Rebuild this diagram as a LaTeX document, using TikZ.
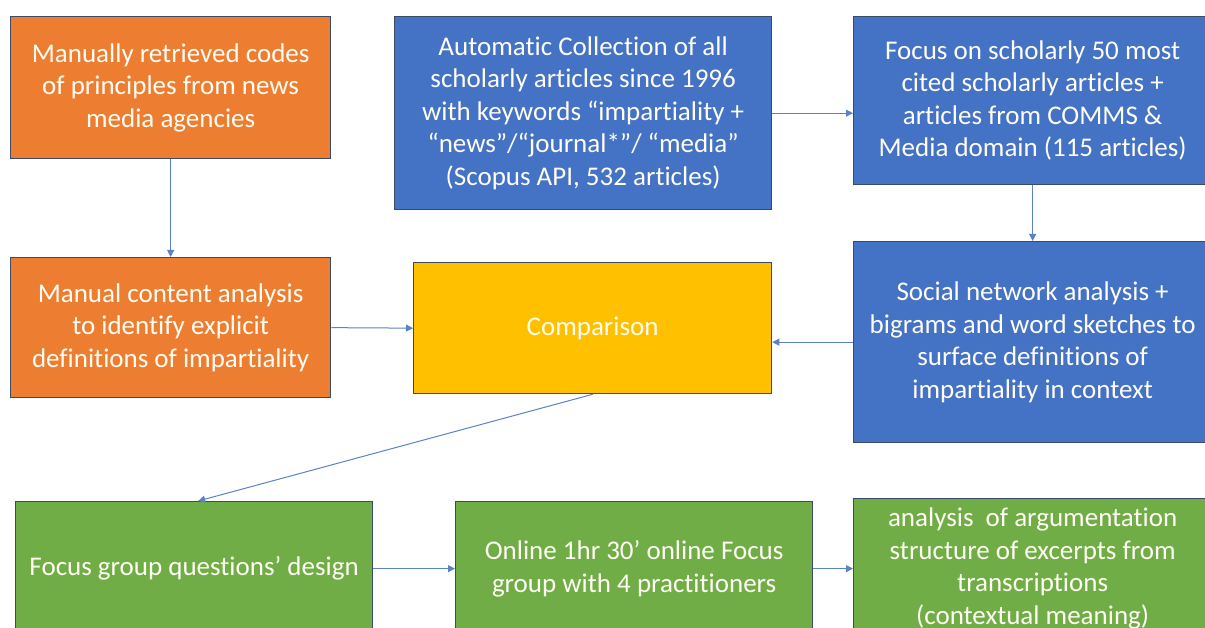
\documentclass[tikz,border=0pt]{standalone}
\usepackage{fontspec}
\setmainfont{Carlito}[RawFeature={-liga;-clig}]
\usetikzlibrary{arrows.meta}
\definecolor{cOrange}{HTML}{ED7D31}
\definecolor{cBlue}{HTML}{4472C4}
\definecolor{cYellow}{HTML}{FFC000}
\definecolor{cGreen}{HTML}{70AD47}
\definecolor{cBorder}{HTML}{3B4A66}
\definecolor{cArrow}{HTML}{5B82C9}
\definecolor{cText}{HTML}{FFFDF4}
\tikzset{
  box/.style={rectangle, draw=cBorder, line width=1.3pt, text=cText, align=center,
    inner sep=0pt, anchor=north west,
    font=\fontsize{27}{32.5}\selectfont},
  conn/.style={draw=cArrow, line width=1pt, -{Triangle[length=7pt,width=7pt]}}
}
\begin{document}
\begin{tikzpicture}[x=1pt,y=-1pt]
\useasboundingbox (0,0) rectangle (1205,628);
\clip (0,0) rectangle (1205,628);
\fill[white] (0,0) rectangle (1205,628);
% top row
\node[box, fill=cOrange, minimum width=320pt, minimum height=142pt] (b1) at (10,16)
  {Manually retrieved codes\\ of principles from news\\ media agencies};
\node[box, fill=cBlue, minimum width=377pt, minimum height=193pt] (b2) at (394,16)
  {Automatic Collection of all\\ scholarly articles since 1996\\ with keywords “impartiality +\\ “news”/“journal*”/ “media”\\ (Scopus API, 532 articles)};
\node[box, fill=cBlue, minimum width=358pt, minimum height=168pt] (b3) at (853,16)
  {Focus on scholarly 50 most\\ cited scholarly articles +\\ articles from COMMS \&\\ Media domain (115 articles)};
% middle row
\node[box, fill=cOrange, minimum width=320pt, minimum height=140pt] (b4) at (10,257)
  {Manual content analysis\\ to identify explicit\\ definitions of impartiality};
\node[box, fill=cYellow, minimum width=358pt, minimum height=131pt] (cmp) at (413,262)
  {Comparison};
\node[box, fill=cBlue, minimum width=358pt, minimum height=201pt] (b6) at (853,241)
  {Social network analysis +\\ bigrams and word sketches to\\ surface definitions of\\ impartiality in context};
% bottom row
\node[box, fill=cGreen, minimum width=357pt, minimum height=134pt] (g1) at (15,501)
  {Focus group questions’ design};
\node[box, fill=cGreen, minimum width=357pt, minimum height=134pt] (g2) at (455,501)
  {Online 1hr 30’ online Focus\\ group with 4 practitioners};
\node[box, fill=cGreen, minimum width=358pt, minimum height=140pt] (g3) at (853,498)
  {analysis\ \ of argumentation\\ structure of excerpts from\\ transcriptions\\ (contextual meaning)};
% connectors
\draw[conn] (b1.south) -- (b4.north);
\draw[conn] (b4.east) -- (cmp.west);
\draw[conn] (b2.east) -- (b2.east -| b3.west);
\draw[conn] (b3.south) -- (b6.north);
\draw[conn] (b6.west) -- (b6.west -| cmp.east);
\draw[conn] (cmp.south) -- ([xshift=4pt]g1.north);
\draw[conn] (g1.east) -- (g2.west);
\draw[conn] (g2.east) -- (g2.east -| g3.west);
\end{tikzpicture}
\end{document}
